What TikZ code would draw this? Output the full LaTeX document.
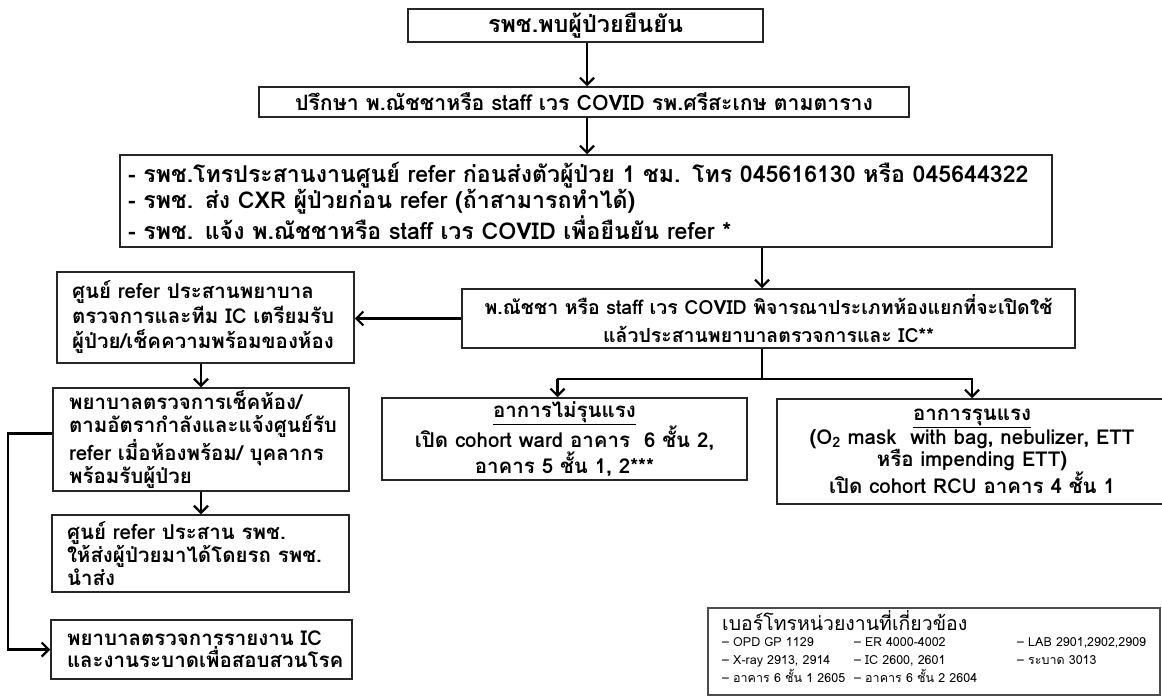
\documentclass[tikz,border=0pt]{standalone}
\usepackage{fontspec}
\setmainfont[Script=Thai]{Loma}
\usetikzlibrary{arrows.meta,calc}

% font size that gives a sample string a wanted width
\newlength\fitlen
\newcommand{\fitbold}[3]{%
  \settowidth\fitlen{\fontsize{10}{12}\selectfont\bfseries #3}%
  \pgfmathsetmacro#1{10*#2/\fitlen}}
\newcommand{\fitreg}[3]{%
  \settowidth\fitlen{\fontsize{10}{12}\selectfont #3}%
  \pgfmathsetmacro#1{10*#2/\fitlen}}
\newcommand{\fs}[2]{\fontsize{#1}{#2}\selectfont\bfseries}

\begin{document}
\fitbold{\szA}{195}{รพช.พบผู้ป่วยยืนยัน}%
\fitbold{\szB}{578}{ปรึกษา พ.ณัชชาหรือ staff เวร COVID รพ.ศรีสะเกษ ตามตาราง}%
\fitbold{\szC}{900}{- รพช.โทรประสานงานศูนย์ refer ก่อนส่งตัวผู้ป่วย 1 ชม. โทร 045616130 หรือ 045644322}%
\fitbold{\szD}{568}{พ.ณัชชา หรือ staff เวร COVID พิจารณาประเภทห้องแยกที่จะเปิดใช้}%
\fitbold{\szL}{242}{ศูนย์ refer ประสานพยาบาล}%
\fitreg{\szPt}{245}{เบอร์โทรหน่วยงานที่เกี่ยวข้อง}%
\fitreg{\szPe}{123}{– อาคาร 6 ชั้น 1 2605}%
\begin{tikzpicture}[x=1pt,y=-1pt,
  box/.style={draw=black!85, line width=1.5pt, inner sep=0pt, fill=white},
  leftbox/.style={box, align=left},
  midbox/.style={box, align=center},
  flow/.style={draw=black, line width=2.2pt,
    -{Straight Barb[length=7pt,width=14pt,line width=2.2pt]}},
  link/.style={draw=black, line width=2.2pt},
  phone/.style={anchor=base west, inner sep=0pt, font=\fontsize{\szPe}{14}\selectfont}
]
\useasboundingbox (0,0) rectangle (1162,698);

% main column
\node[midbox, minimum width=355, minimum height=33, font=\fs{\szA}{24}] (B1) at (585.5,25.5)
  {รพช.พบผู้ป่วยยืนยัน};
\node[midbox, minimum width=650, minimum height=30, font=\fs{\szB}{20}] (B2) at (584,102)
  {ปรึกษา พ.ณัชชาหรือ staff เวร COVID รพ.ศรีสะเกษ ตามตาราง};
\node[leftbox, minimum width=932, minimum height=92, text width=916, font=\fs{\szC}{26}] (B3) at (586,201)
  {- รพช.โทรประสานงานศูนย์ refer ก่อนส่งตัวผู้ป่วย 1 ชม. โทร 045616130 หรือ 045644322\\
   - รพช. ส่ง CXR ผู้ป่วยก่อน refer (ถ้าสามารถทำได้)\\
   - รพช. แจ้ง พ.ณัชชาหรือ staff เวร COVID เพื่อยืนยัน refer *};
\node[midbox, minimum width=613, minimum height=59, font=\fs{\szD}{28}] (B4) at (768.5,318.5)
  {พ.ณัชชา หรือ staff เวร COVID พิจารณาประเภทห้องแยกที่จะเปิดใช้\\
   แล้วประสานพยาบาลตรวจการและ IC**};

% left column
\node[leftbox, minimum width=297, minimum height=91, text width=267, font=\fs{\szL}{25}] (L1) at (205.5,317.5)
  {ศูนย์ refer ประสานพยาบาล\\ ตรวจการและทีม IC เตรียมรับ\\ ผู้ป่วย/เช็คความพร้อมของห้อง};
\node[leftbox, minimum width=296, minimum height=103, text width=264, font=\fs{\szL}{23}] (L2) at (201,439.5)
  {พยาบาลตรวจการเช็คห้อง/\\ ตามอัตรากำลังและแจ้งศูนย์รับ\\ refer เมื่อห้องพร้อม/ บุคลากร\\ พร้อมรับผู้ป่วย};
\node[leftbox, minimum width=297, minimum height=77, text width=267, font=\fs{\szL}{21}] (L3) at (200.5,553.5)
  {ศูนย์ refer ประสาน รพช.\\ ให้ส่งผู้ป่วยมาได้โดยรถ รพช.\\ นำส่ง};
\node[leftbox, minimum width=301, minimum height=59, text width=269, font=\fs{\szL}{21}] (L4) at (201.5,649.5)
  {พยาบาลตรวจการรายงาน IC\\ และงานระบาดเพื่อสอบสวนโรค};

% severity branches
\node[midbox, minimum width=365, minimum height=82, font=\fs{\szL}{22}] (M) at (564.5,439)
  {\underline{อาการไม่รุนแรง}\\ เปิด cohort ward อาคาร~ 6 ชั้น 2,\\ อาคาร 5 ชั้น 1, 2***};
\node[midbox, minimum width=390, minimum height=105, font=\fs{\szL}{20.5}] (S) at (972,451.5)
  {\underline{อาการรุนแรง}\\ (O\textsubscript{2} mask~ with bag, nebulizer, ETT\\ หรือ impending ETT)\\ เปิด cohort RCU อาคาร 4 ชั้น 1};

% phone list
\node[draw=black!70, line width=2pt, minimum width=452, minimum height=87, inner sep=0pt] (P) at (934,651.5) {};
\node[phone, font=\fontsize{\szPt}{21}\selectfont] (Pt) at ($(P.north west)+(15,23)$) {เบอร์โทรหน่วยงานที่เกี่ยวข้อง};
\node[phone] (P11) at ($(P.north west)+(15,39)$) {– OPD GP 1129};
\node[phone] (P12) at ($(P.north west)+(147,39)$) {– ER 4000-4002};
\node[phone] (P13) at ($(P.north west)+(310,39)$) {– LAB 2901,2902,2909};
\node[phone] (P21) at ($(P.north west)+(15,57)$) {– X-ray 2913, 2914};
\node[phone] (P22) at ($(P.north west)+(147,57)$) {– IC 2600, 2601};
\node[phone] (P23) at ($(P.north west)+(310,57)$) {– ระบาด 3013};
\node[phone] (P31) at ($(P.north west)+(15,75)$) {– อาคาร 6 ชั้น 1 2605};
\node[phone] (P32) at ($(P.north west)+(147,75)$) {– อาคาร 6 ชั้น 2 2604};

% connectors
\draw[flow] ($(B1.south)+(1.5,0)$) -- ($(B2.north)+(3,0)$);
\draw[flow] ($(B2.south)+(3,0)$) -- ($(B3.north)+(1,0)$);
\draw[flow] ($(B3.south)+(176,0)$) -- ($(B4.north)+(-6.5,0)$);
\draw[flow] (B4.west) -- (B4.west -| L1.east);
\draw[flow] (L2.north |- L1.south) -- (L2.north);
\draw[flow] (L2.south) -- (L2.south |- L3.north);
\draw[flow] ($(L2.west)+(0,-6)$) -- ++(-44,0) |- (L4.west);
\draw[link] ($(B4.south)+(-6.5,0)$) -- ++(0,30.5) coordinate (J);
\draw[link] ($(J -| M.north)+(-8,0)$) -- ($(J -| S.north)+(1,0)$);
\draw[flow] ($(J -| M.north)+(-7,0)$) -- ($(M.north)+(-7,0)$);
\draw[flow] (J -| S.north) -- (S.north);
\end{tikzpicture}
\end{document}
